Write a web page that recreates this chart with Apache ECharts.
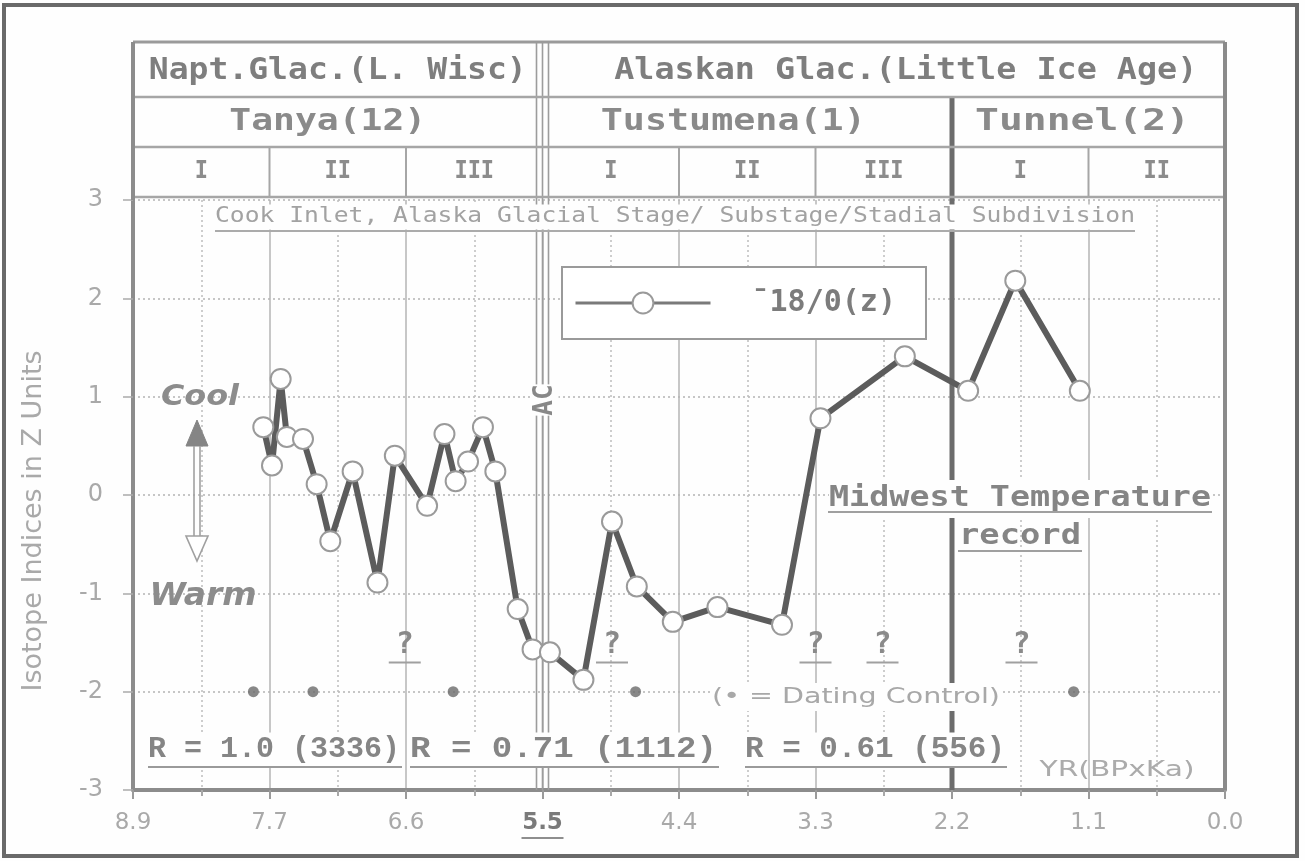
<!DOCTYPE html>
<html>
<head>
<meta charset="utf-8">
<script src="https://cdn.jsdelivr.net/npm/echarts@6/dist/echarts.min.js"></script>
<style>
  html, body { margin: 0; padding: 0; background: #ffffff; }
  #chart { width: 1305px; height: 861px; }
</style>
</head>
<body>
<div id="chart"></div>
<script>
// ---- Data ---------------------------------------------------------------
// Age axis in ka before present (oldest on the left, present on the right)
const xTickLabels = ['0.0', '1.1', '2.2', '3.3', '4.4', '5.5', '6.6', '7.7', '8.9'];
const xStep = 1.1;

// Isotope record: age (ka) and index (Z units)
const isoName = '\u00AF18/0(z)';
const isoAge   = [7.75, 7.68, 7.61, 7.56, 7.43, 7.32, 7.21, 7.03, 6.83, 6.69,
                  6.43, 6.29, 6.20, 6.10, 5.98, 5.88, 5.70, 5.58, 5.44, 5.17,
                  4.94, 4.74, 4.45, 4.09, 3.57, 3.26, 2.58, 2.07, 1.69, 1.17];
const isoValue = [0.69, 0.30, 1.18, 0.59, 0.57, 0.11, -0.47, 0.24, -0.89, 0.40,
                  -0.11, 0.62, 0.14, 0.34, 0.69, 0.24, -1.16, -1.57, -1.60, -1.88,
                  -0.27, -0.93, -1.29, -1.14, -1.32, 0.78, 1.41, 1.06, 2.18, 1.06];

// Dating control points and uncertain ("?") boundaries
const datingAge = [7.83, 7.35, 6.22, 4.75, 1.22];
const datingLevel = -2;
const queryAge = [6.61, 4.94, 3.30, 2.76, 1.64];
const queryLevel = -1.53;

// Glacial stage / substage / stadial subdivision (age spans in ka)
const stageNames = ['Napt.Glac.(L. Wisc)', 'Alaskan Glac.(Little Ice Age)'];
const stageSpans = [[8.8, 5.5], [5.5, 0]];
const substageNames = ['Tanya(12)', 'Tustumena(1)', 'Tunnel(2)'];
const substageSpans = [[8.8, 5.5], [5.5, 2.2], [2.2, 0]];
const stadialNames = ['I', 'II', 'III', 'I', 'II', 'III', 'I', 'II'];
const stadialSpans = [[8.8, 7.7], [7.7, 6.6], [6.6, 5.5], [5.5, 4.4],
                      [4.4, 3.3], [3.3, 2.2], [2.2, 1.1], [1.1, 0]];

const correlationTexts = ['R = 1.0 (3336)', 'R = 0.71 (1112)', 'R = 0.61 (556)'];

// ---- Chart --------------------------------------------------------------
const chart = echarts.init(document.getElementById('chart'), null, { renderer: 'canvas' });

const LIGHT_TEXT = '#a9a9a9';
const MONO = '"DejaVu Sans Mono", monospace';
const SANS = '"DejaVu Sans", sans-serif';

const option = {
  backgroundColor: '#fefefe',
  animation: false,
  grid: { left: 133, right: 80, top: 200, bottom: 71 },
  legend: {
    data: [isoName],
    left: 562,
    top: 267,
    padding: [21, 30, 21, 12],
    itemWidth: 135,
    itemHeight: 26,
    backgroundColor: '#ffffff',
    borderColor: '#9a9a9a',
    borderWidth: 2,
    borderRadius: 0,
    selectedMode: false,
    lineStyle: { width: 3, color: '#7a7a7a' },
    itemStyle: { color: '#ffffff', borderColor: '#9a9a9a', borderWidth: 2 },
    textStyle: {
      fontFamily: MONO, fontWeight: 'bold', fontSize: 30, color: '#7c7c7c',
      padding: [0, 0, 0, 36], lineHeight: 30
    }
  },
  xAxis: {
    type: 'value',
    min: 0,
    max: 8.8,
    interval: xStep,
    inverse: true,
    axisLine: { show: true, onZero: false, lineStyle: { color: '#8c8c8c', width: 4 } },
    axisTick: { show: true, length: 9, lineStyle: { color: '#9a9a9a', width: 2 } },
    minorTick: { show: true, splitNumber: 2, length: 6, lineStyle: { color: '#a8a8a8', width: 2 } },
    axisLabel: {
      margin: 22,
      fontFamily: SANS,
      fontSize: 23,
      color: LIGHT_TEXT,
      formatter: function (v) {
        const i = Math.round(v / xStep);
        const s = xTickLabels[i];
        return s === '5.5' ? '{em|' + s + '}' : s;
      },
      rich: { em: { fontFamily: SANS, fontSize: 23, fontWeight: 'bold', color: '#7a7a7a' } }
    },
    splitLine: { show: true, lineStyle: { color: '#b4b4b4', width: 1.5 } },
    minorSplitLine: { show: true, lineStyle: { color: '#bdbdbd', width: 1.5, type: [2, 3] } }
  },
  yAxis: {
    type: 'value',
    min: -3,
    max: 3,
    interval: 1,
    name: 'Isotope Indices in Z Units',
    nameLocation: 'middle',
    nameGap: 86,
    nameRotate: 90,
    nameTextStyle: { fontFamily: SANS, fontSize: 27, color: LIGHT_TEXT, padding: [0, 52, 0, 0] },
    axisLine: { show: true, onZero: false, lineStyle: { color: '#8c8c8c', width: 4 } },
    axisTick: { show: true, length: 10, lineStyle: { color: '#ababab', width: 1.5 } },
    axisLabel: { margin: 30, fontFamily: SANS, fontSize: 24, color: LIGHT_TEXT },
    splitLine: { show: true, lineStyle: { color: '#b4b4b4', width: 1.5, type: [2, 3] } }
  },
  series: [
    {
      name: isoName,
      type: 'line',
      z: 4,
      data: isoAge.map((a, i) => [a, isoValue[i]]),
      symbol: 'circle',
      symbolSize: 20,
      showAllSymbol: true,
      lineStyle: { color: '#5c5c5c', width: 6 },
      itemStyle: { color: '#ffffff', borderColor: '#9a9a9a', borderWidth: 2 }
    },
    {
      name: 'Dating Control',
      type: 'scatter',
      z: 4,
      data: datingAge.map(a => [a, datingLevel]),
      symbol: 'circle',
      symbolSize: 11,
      itemStyle: { color: '#6a6a6a' }
    },
    {
      name: 'Uncertain',
      type: 'custom',
      z: 4,
      data: queryAge.map(a => [a, queryLevel]),
      renderItem: function (params, api) {
        const p = api.coord([api.value(0), api.value(1)]);
        return {
          type: 'group',
          children: [
            { type: 'text', x: p[0], y: p[1],
              style: { text: '?', font: 'bold 30px ' + MONO, fill: '#8a8a8a',
                       align: 'center', verticalAlign: 'middle' } },
            { type: 'line', shape: { x1: p[0] - 16, y1: p[1] + 17, x2: p[0] + 16, y2: p[1] + 17 },
              style: { stroke: '#a0a0a0', lineWidth: 2 } }
          ]
        };
      }
    }
  ]
};

chart.setOption(option);

// ---- Overlay: frame, stage table, annotations -----------------------------
const X = v => chart.convertToPixel({ xAxisIndex: 0 }, v);
const Y = v => chart.convertToPixel({ yAxisIndex: 0 }, v);

const measureCtx = document.createElement('canvas').getContext('2d');
function widthOf(str, font) { measureCtx.font = font; return measureCtx.measureText(str).width; }

// Text stretched horizontally to a given width, centred on (cx, cy)
function fitted(str, cx, cy, width, font, fill, extra) {
  const sx = width / widthOf(str, font);
  const el = {
    type: 'text', x: cx, y: cy, scaleX: sx, z: 10,
    style: { text: str, font: font, fill: fill, align: 'center', verticalAlign: 'middle' }
  };
  if (extra) Object.assign(el.style, extra);
  return el;
}
function hline(x1, x2, y, color, w, z) {
  return { type: 'line', z: z || 3, shape: { x1: x1, y1: y, x2: x2, y2: y },
           style: { stroke: color, lineWidth: w } };
}
function vline(x, y1, y2, color, w, z) {
  return { type: 'line', z: z || 3, shape: { x1: x, y1: y1, x2: x, y2: y2 },
           style: { stroke: color, lineWidth: w } };
}

const L = X(8.8), R = X(0);
const T0 = 42, T1 = 97, T2 = 147, T3 = Y(3), B = Y(-3);
const g = [];

// outer frame
g.push({ type: 'rect', z: 1, shape: { x: 4, y: 5, width: 1293, height: 851 },
         style: { fill: 'none', stroke: '#6a6a6a', lineWidth: 4 } });

// table lines and plot frame extensions
g.push(hline(L, R, T0, '#9a9a9a', 3));
g.push(hline(L, R, T1, '#a6a6a6', 2.5));
g.push(hline(L, R, T2, '#a6a6a6', 2.5));
g.push(hline(L, R, T3 - 3, '#a6a6a6', 2.5));
g.push(vline(L, T0, T3, '#8c8c8c', 4));
g.push(vline(R, T0, B, '#8a8a8a', 4));

// stadial cell dividers
stadialSpans.forEach((s, i) => {
  if (i > 0 && s[0] !== 5.5 && s[0] !== 2.2) g.push(vline(X(s[0]), T2, T3 - 3, '#a6a6a6', 2));
});

// stage boundary (triple line) and substage boundary (heavy line)
const xs = X(5.5);
[-6, 0, 6].forEach(d => g.push(vline(xs + d, T0, B, '#9c9c9c', 1.6, 2)));
g.push(vline(X(2.2), T1, B, '#6c6c6c', 5, 2));

// table texts
const headFont = 'bold 30px ' + MONO;
const stageWidths = [378, 583];
stageNames.forEach((n, i) => {
  const cx = (X(stageSpans[i][0]) + X(stageSpans[i][1])) / 2 + (i === 1 ? 22 : 0);
  g.push(fitted(n, cx, 71, stageWidths[i], headFont, '#7e7e7e'));
});
const subWidths = [197, 265, 215];
const subShift = [-10, -14, -6];
substageNames.forEach((n, i) => {
  const cx = (X(substageSpans[i][0]) + X(substageSpans[i][1])) / 2 + subShift[i];
  g.push(fitted(n, cx, 122, subWidths[i], headFont, '#8a8a8a'));
});
stadialNames.forEach((n, i) => {
  const cx = (X(stadialSpans[i][0]) + X(stadialSpans[i][1])) / 2;
  g.push({ type: 'text', x: cx, y: 171, z: 10, scaleY: 1.15,
           style: { text: n, font: 'bold 22px ' + MONO, fill: '#8c8c8c',
                    align: 'center', verticalAlign: 'middle' } });
});

// subtitle inside the plot
const cookText = 'Cook Inlet, Alaska Glacial Stage/ Substage/Stadial Subdivision';
g.push(fitted(cookText, 675, 217, 920, '21px ' + MONO, '#a2a2a2',
              { backgroundColor: '#fefefe', padding: [2, 0, 2, 0] }));
g.push(hline(215, 1135, 231, '#ababab', 2, 11));

// Cool / Warm arrow
g.push(fitted('Cool', 200, 398, 78, 'italic bold 28px ' + SANS, '#8c8c8c'));
g.push(fitted('Warm', 203, 597, 107, 'italic bold 32px ' + SANS, '#8c8c8c'));
g.push({ type: 'polygon', z: 5, shape: { points: [[197, 420], [186, 446], [208, 446]] },
         style: { fill: '#858585', stroke: '#858585', lineWidth: 1 } });
g.push(vline(194, 446, 538, '#a0a0a0', 1.6, 5));
g.push(vline(200, 446, 538, '#a0a0a0', 1.6, 5));
g.push({ type: 'polygon', z: 5, shape: { points: [[186, 536], [208, 536], [197, 561]] },
         style: { fill: '#ffffff', stroke: '#a0a0a0', lineWidth: 1.6 } });

// stage boundary label
g.push({ type: 'text', x: xs + 3, y: 400, z: 10, rotation: Math.PI / 2,
         style: { text: 'AC', font: 'bold 26px ' + MONO, fill: '#888888',
                  align: 'center', verticalAlign: 'middle', backgroundColor: '#fefefe' } });

// Midwest temperature record
g.push(fitted('Midwest Temperature', 1020, 499, 382, 'bold 28px ' + MONO, '#858585',
              { backgroundColor: '#fefefe', padding: [5, 0, 5, 0] }));
g.push(hline(828, 1212, 512, '#a0a0a0', 2, 11));
g.push(fitted('record', 1020, 537, 122, 'bold 28px ' + MONO, '#858585'));
g.push(hline(958, 1082, 551, '#a0a0a0', 2, 11));

// dating control key
g.push(fitted('(\u2022 = Dating Control)', 856, 697, 288, '22px ' + SANS, '#a8a8a8',
              { backgroundColor: '#fefefe', padding: [3, 0, 3, 0] }));

// correlation coefficients
const rSpans = [[148, 400], [410, 717], [745, 1005]];
correlationTexts.forEach((t, i) => {
  const s = rSpans[i];
  g.push(fitted(t, (s[0] + s[1]) / 2, 750, s[1] - s[0], 'bold 29px "Liberation Mono", monospace', '#858585',
                { backgroundColor: '#fefefe', padding: [3, 0, 3, 0] }));
  g.push(hline(s[0], s[1] + 2, 767, '#9a9a9a', 2, 11));
});

// axis unit
g.push(fitted('YR(BPxKa)', 1117, 770, 155, '22px ' + SANS, '#ababab'));

// underline of the stage boundary tick label
g.push(hline(xs - 21, xs + 21, 838, '#8e8e8e', 2, 11));

chart.setOption({ graphic: { elements: g } });
</script>
</body>
</html>
